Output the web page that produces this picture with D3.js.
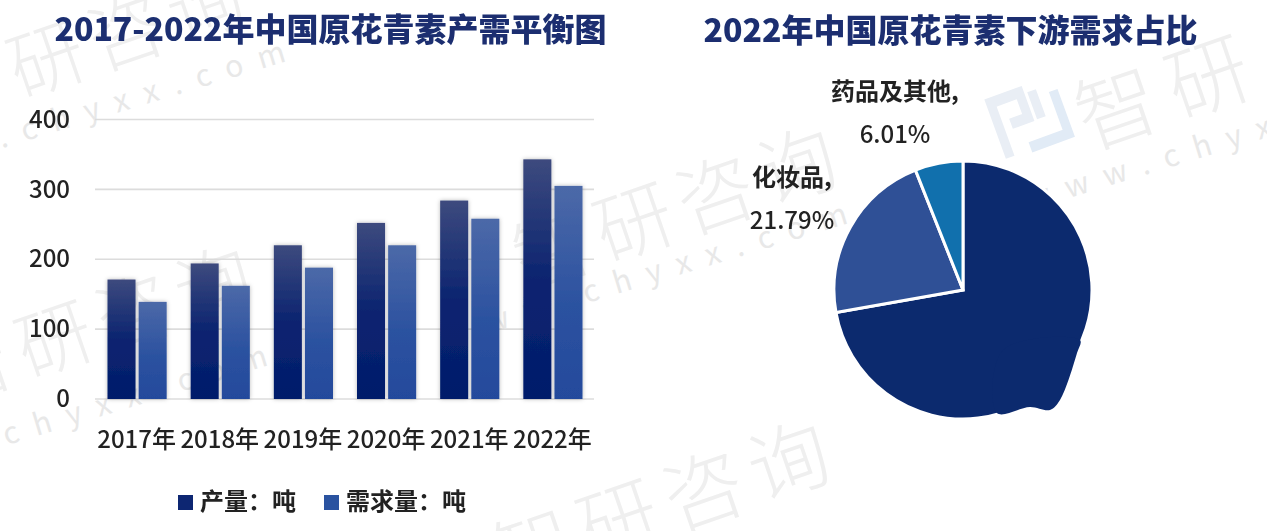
<!DOCTYPE html>
<html lang="zh"><head><meta charset="utf-8">
<script src="https://cdn.jsdelivr.net/npm/d3@7/dist/d3.min.js"></script>
<style>
html,body{margin:0;padding:0;background:#fff;overflow:hidden}
svg{display:block}
text{font-family:"Noto Sans CJK SC","Noto Sans",sans-serif}
.crisp{filter:url(#soft)}
</style></head><body>
<svg id="c" width="1267" height="531"></svg>
<script>
// ---- data ----
const years = ["2017年","2018年","2019年","2020年","2021年","2022年"];
const production = [171,194,220,252,284,343];
const demand = [139,162,188,220,258,305];
const seriesNames = ["产量：吨","需求量：吨"];
const yTicks = [0,100,200,300,400];
const pieNames = ["医药","化妆品","药品及其他"];
const pieShares = [72.20,21.79,6.01];
const titleLeft = "2017-2022年中国原花青素产需平衡图";
const titleRight = "2022年中国原花青素下游需求占比";
// ---- watermark strings ----
const wmBrand = "智研咨询";
const wmSite = "www.chyxx.com";

const svg = d3.select("#c");
const defs = svg.append("defs");
const soft = defs.append("filter").attr("id","soft").attr("x","-5%").attr("y","-20%").attr("width","110%").attr("height","140%");
soft.append("feGaussianBlur").attr("stdDeviation",0.55);
const shadow = defs.append("filter").attr("id","barShadow").attr("x","-30%").attr("y","-10%").attr("width","160%").attr("height","120%");
shadow.append("feDropShadow").attr("dx",0).attr("dy",0).attr("stdDeviation",2).attr("flood-color","#000").attr("flood-opacity",0.28);
function grad(id,stops){
  const g = defs.append("linearGradient").attr("id",id).attr("x1",0).attr("y1",0).attr("x2",0).attr("y2",1);
  stops.forEach(([o,c])=>g.append("stop").attr("offset",o).attr("stop-color",c));
}
grad("gProd",[[0,"#3d4a7e"],[0.5,"#0b2470"],[1,"#021c6b"]]);
grad("gDem",[[0,"#4c69a8"],[0.55,"#2c52a0"],[1,"#244a9c"]]);

// ---- watermarks ----
const wm = svg.append("g").attr("class","watermark");
const wmPlaces = [
  {t:wmBrand,x:-60,y:125,s:76,k:8},
  {t:wmBrand,x:525,y:290,s:78,k:8},
  {t:wmBrand,x:-52,y:405,s:76,k:8},
  {t:wmBrand,x:505,y:590,s:80,k:10},
  {t:wmBrand.slice(0,2),x:1088,y:150,s:82,k:14}
];
wmPlaces.forEach(p=>wm.append("text").text(p.t).attr("transform",`translate(${p.x},${p.y}) rotate(-19)`)
  .attr("font-size",p.s).attr("letter-spacing",p.k).attr("fill","#efefef").attr("font-weight",300));
const sitePlaces = [
  {x:-112,y:183,s:30},{x:450,y:345,s:30},{x:-130,y:487,s:30},{x:1030,y:210,s:30},{x:490,y:668,s:30}
];
sitePlaces.forEach(p=>wm.append("text").text(wmSite).attr("transform",`translate(${p.x},${p.y}) rotate(-17)`)
  .attr("font-size",p.s).attr("letter-spacing",16).attr("fill","#e8e8e8"));
const logo = wm.append("g").attr("transform","translate(985,100) rotate(-20) scale(1.02,1.2)").attr("fill","none").attr("stroke","#e9eef5").attr("stroke-width",9);
logo.append("path").attr("d","M4 52V4H34V26H16");
logo.append("path").attr("d","M26 50H66V12").attr("stroke","#e1ebf6");
logo.append("path").attr("d","M46 6V30");

// ---- titles ----
const titles = svg.append("g").attr("class","crisp").attr("fill","#1a2f70").attr("font-weight",900).attr("font-size",32);
titles.append("text").attr("x",330.5).attr("y",41).attr("text-anchor","middle").text(titleLeft);
titles.append("text").attr("x",950.5).attr("y",42).attr("text-anchor","middle").text(titleRight);

// ---- bar chart ----
const x = d3.scaleBand().domain(years).range([95,594]);
const y = d3.scaleLinear().domain([0,400]).range([399,119.5]);
const gridG = svg.append("g").attr("class","grid");
gridG.selectAll("line").data(yTicks).join("line")
  .attr("x1",95).attr("x2",594).attr("y1",d=>y(d)).attr("y2",d=>y(d))
  .attr("stroke","#dcdcdc").attr("stroke-width",1.6);

const xAxis = svg.append("g").attr("class","crisp").attr("transform","translate(0,399)")
  .call(d3.axisBottom(x).tickSize(0).tickPadding(32));
xAxis.select(".domain").remove();
xAxis.selectAll("text").attr("font-size",24).attr("font-weight",500).attr("fill","#222").attr("font-family",'"Noto Sans CJK SC"');
const yAxis = svg.append("g").attr("class","crisp").attr("transform","translate(95,0)")
  .call(d3.axisLeft(y).tickValues(yTicks).tickSize(0).tickPadding(25));
yAxis.select(".domain").remove();
yAxis.selectAll("text").attr("font-size",24).attr("font-weight",500).attr("fill","#222").attr("font-family",'"Noto Sans CJK SC"');

const inner = d3.scaleBand().domain([0,1]).range([12,x.bandwidth()-12]).paddingInner(0.1);
const barSeries = [{v:production,f:"url(#gProd)"},{v:demand,f:"url(#gDem)"}];
barSeries.forEach((s,i)=>{
  svg.append("g").attr("filter","url(#barShadow)").selectAll("rect").data(years).join("rect")
    .attr("x",d=>x(d)+inner(i)+0.5).attr("width",inner.bandwidth())
    .attr("y",(d,j)=>y(s.v[j])).attr("height",(d,j)=>y(0)-y(s.v[j]))
    .attr("fill",s.f);
});

// ---- legend ----
const legend = svg.append("g").attr("class","crisp");
const legendColors = ["#0e2872","#2c52a0"];
const legendX = [178,324];
seriesNames.forEach((n,i)=>{
  legend.append("rect").attr("x",legendX[i]).attr("y",495).attr("width",15).attr("height",15).attr("fill",legendColors[i]);
  legend.append("text").attr("x",legendX[i]+22).attr("y",510).attr("font-size",24).attr("font-weight",700).attr("fill","#222").text(n);
});

// ---- pie ----
const cx = 963, cy = 290, R = 129;
const pieColors = ["#0c2a6e","#2f5096","#1170ad"];
const arcs = d3.pie().sort(null)(pieShares);
const arc = d3.arc().innerRadius(0).outerRadius(R);
const pieG = svg.append("g").attr("transform",`translate(${cx},${cy})`);
pieG.selectAll("path.slice").data(arcs).join("path").attr("class","slice")
  .attr("d",arc).attr("fill",(d,i)=>pieColors[i]).attr("stroke","#fff").attr("stroke-width",3);
// the reference has a retouched smudge on the lower-right rim
const smudge = d3.line().curve(d3.curveCatmullRomClosed)([[117,50],[114,63],[97,110],[87,120],[67,117],[34,123],[40,60]]);
pieG.append("path").attr("d",smudge).attr("fill",pieColors[0]);

const pieLabels = svg.append("g").attr("class","crisp").attr("font-size",24).attr("font-weight",700).attr("fill","#222").attr("text-anchor","middle");
[[2,895,100,143],[1,792,186,229]].forEach(([i,lx,y1,y2])=>{
  pieLabels.append("text").attr("x",lx).attr("y",y1).text(pieNames[i]+",");
  pieLabels.append("text").attr("x",lx).attr("y",y2).attr("font-weight",500).text(pieShares[i].toFixed(2)+"%");
});
</script>
</body></html>
